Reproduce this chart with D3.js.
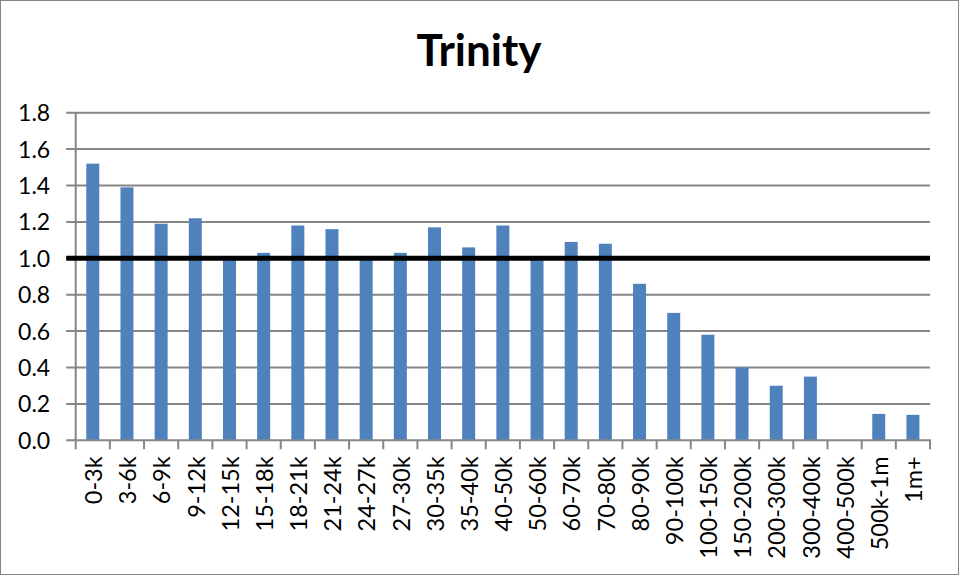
<!DOCTYPE html>
<html>
<head>
<meta charset="utf-8">
<script src="https://cdn.jsdelivr.net/npm/d3@7"></script>
<style>
  html, body { margin: 0; padding: 0; background: #fff; }
  svg { display: block; }
</style>
</head>
<body>
<svg id="chart" width="960" height="576"></svg>
<script>
const title = "Trinity";
const categories = ["0-3k","3-6k","6-9k","9-12k","12-15k","15-18k","18-21k","21-24k","24-27k","27-30k","30-35k","35-40k","40-50k","50-60k","60-70k","70-80k","80-90k","90-100k","100-150k","150-200k","200-300k","300-400k","400-500k","500k-1m","1m+"];
const values = [1.52,1.39,1.19,1.22,1.00,1.03,1.18,1.16,1.00,1.03,1.17,1.06,1.18,1.00,1.09,1.08,0.86,0.70,0.58,0.40,0.30,0.35,0,0.145,0.14];
const yTicks = [0,0.2,0.4,0.6,0.8,1.0,1.2,1.4,1.6,1.8];
const referenceValue = 1.0;

(function () {
const svg = d3.select("#chart");
const pLeft = 75.7, pRight = 930, pTop = 112.7, pBottom = 440.3;
const grey = "#868686";
const font = "Lato, 'Open Sans', sans-serif";

svg.append("rect").attr("x",0.5).attr("y",0.5).attr("width",958).attr("height",574)
  .attr("fill","#fff").attr("stroke",grey).attr("stroke-width",1);

const x = d3.scaleBand().domain(categories).range([pLeft, pRight]).padding(0);
const y = d3.scaleLinear().domain([0, 1.8]).range([pBottom, pTop]);

// gridlines (extend left as tick marks)
svg.append("g").selectAll("line").data(yTicks.filter(t => t > 0)).join("line")
  .attr("x1", pLeft - 9.5).attr("x2", pRight)
  .attr("y1", d => y(d)).attr("y2", d => y(d))
  .attr("stroke", grey).attr("stroke-width", 2);

// y axis labels
const yAxis = d3.axisLeft(y).tickValues(yTicks).tickFormat(d3.format(".1f")).tickSize(0).tickPadding(0);
const yg = svg.append("g").attr("transform", `translate(${pLeft - 25.5},0)`).call(yAxis);
yg.select(".domain").remove();
yg.selectAll("text").attr("font-family", font).attr("font-size", 23).attr("fill", "#000").attr("dy","0.35em");

// bars
const bw = x.bandwidth();
const barW = bw * 0.38;
svg.append("g").selectAll("rect").data(categories.map((c,i)=>({c, v: values[i]}))).join("rect")
  .attr("x", d => x(d.c) + (bw - barW) / 2)
  .attr("width", barW)
  .attr("y", d => y(d.v))
  .attr("height", d => y(0) - y(d.v))
  .attr("fill", "#4F81BD");

// left axis line
svg.append("line").attr("x1", pLeft).attr("x2", pLeft).attr("y1", pTop).attr("y2", pBottom)
  .attr("stroke", grey).attr("stroke-width", 2);

// x axis
const xAxis = d3.axisBottom(x).tickSize(0).tickPadding(0);
const xg = svg.append("g").attr("transform", `translate(0,${pBottom})`).call(xAxis);
xg.select(".domain").remove();
xg.selectAll(".tick line").remove();
xg.selectAll("text")
  .attr("font-family", font).attr("font-size", 23.5).attr("fill", "#000")
  .attr("text-anchor", "end")
  .attr("transform", "translate(1,16) rotate(-90)")
  .attr("x", 0).attr("y", 0).attr("dy", "0.35em");

// x axis line and boundary ticks
svg.append("line").attr("x1", pLeft - 9.5).attr("x2", pRight + 1).attr("y1", pBottom).attr("y2", pBottom)
  .attr("stroke", grey).attr("stroke-width", 2);
const bounds = categories.map(c => x(c)).concat([pRight]);
svg.append("g").selectAll("line").data(bounds).join("line")
  .attr("x1", d => d).attr("x2", d => d).attr("y1", pBottom).attr("y2", pBottom + 9)
  .attr("stroke", grey).attr("stroke-width", 2);

// reference line at 1.0
svg.append("line").attr("x1", pLeft - 9.5).attr("x2", pRight)
  .attr("y1", y(referenceValue)).attr("y2", y(referenceValue))
  .attr("stroke", "#000").attr("stroke-width", 5);

// title
svg.append("text").attr("x", 479).attr("y", 66).attr("text-anchor", "middle")
  .attr("font-family", font).attr("font-weight", "bold").attr("font-size", 44)
  .attr("fill", "#000").text(title);
})();
</script>
</body>
</html>
